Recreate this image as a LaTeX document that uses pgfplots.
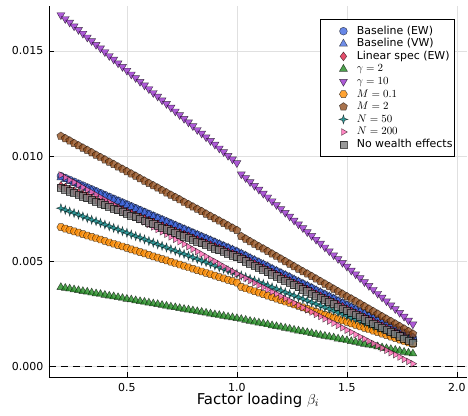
\documentclass[border=0pt]{standalone}
\usepackage{fontspec}
\setmainfont{DejaVu Sans}
\usepackage{pgfplots}
\usepackage{pgfplotstable}
\pgfplotsset{compat=1.18}

\definecolor{cblue}{HTML}{4169E1}
\definecolor{cred}{HTML}{DC143C}
\definecolor{cgreen}{HTML}{228B22}
\definecolor{cpurple}{HTML}{9932CC}
\definecolor{corange}{HTML}{FF8C00}
\definecolor{cbrown}{HTML}{8B4513}
\definecolor{cteal}{HTML}{008080}
\definecolor{cpink}{HTML}{FF69B4}
\definecolor{cgray}{HTML}{808080}

\pgfdeclareplotmark{hexagon*}{%
  \pgfpathmoveto{\pgfpointpolar{0}{\pgfplotmarksize}}%
  \pgfpathlineto{\pgfpointpolar{60}{\pgfplotmarksize}}%
  \pgfpathlineto{\pgfpointpolar{120}{\pgfplotmarksize}}%
  \pgfpathlineto{\pgfpointpolar{180}{\pgfplotmarksize}}%
  \pgfpathlineto{\pgfpointpolar{240}{\pgfplotmarksize}}%
  \pgfpathlineto{\pgfpointpolar{300}{\pgfplotmarksize}}%
  \pgfpathclose\pgfusepathqfillstroke}
\pgfdeclareplotmark{star4*}{%
  \pgfpathmoveto{\pgfpointpolar{90}{1.25\pgfplotmarksize}}%
  \pgfpathlineto{\pgfpointpolar{135}{0.42\pgfplotmarksize}}%
  \pgfpathlineto{\pgfpointpolar{180}{1.25\pgfplotmarksize}}%
  \pgfpathlineto{\pgfpointpolar{225}{0.42\pgfplotmarksize}}%
  \pgfpathlineto{\pgfpointpolar{270}{1.25\pgfplotmarksize}}%
  \pgfpathlineto{\pgfpointpolar{315}{0.42\pgfplotmarksize}}%
  \pgfpathlineto{\pgfpointpolar{0}{1.25\pgfplotmarksize}}%
  \pgfpathlineto{\pgfpointpolar{45}{0.42\pgfplotmarksize}}%
  \pgfpathclose\pgfusepathqfillstroke}

% columns: x, baseline EW, baseline VW, linear spec EW, gamma=2, gamma=10, M=0.1, M=2, N=50, N=200, no wealth effects
\pgfplotstableread{
x be bv ls g2 g10 m01 m2 n50 n200 nw
0.20 905e-5 898e-5 858e-5 376e-5 1671e-5 662e-5 1095e-5 752e-5 910e-5 850e-5
0.22 896e-5 889e-5 850e-5 372e-5 1653e-5 655e-5 1084e-5 744e-5 898e-5 842e-5
0.24 887e-5 880e-5 841e-5 369e-5 1636e-5 649e-5 1073e-5 736e-5 886e-5 833e-5
0.26 878e-5 872e-5 833e-5 365e-5 1618e-5 642e-5 1061e-5 729e-5 875e-5 825e-5
0.28 869e-5 863e-5 825e-5 361e-5 1601e-5 636e-5 1050e-5 721e-5 863e-5 817e-5
0.30 860e-5 854e-5 817e-5 357e-5 1583e-5 629e-5 1039e-5 713e-5 851e-5 809e-5
0.32 851e-5 845e-5 808e-5 354e-5 1565e-5 622e-5 1028e-5 705e-5 839e-5 800e-5
0.34 842e-5 836e-5 800e-5 350e-5 1548e-5 616e-5 1017e-5 697e-5 828e-5 792e-5
0.36 833e-5 828e-5 792e-5 346e-5 1530e-5 609e-5 1005e-5 690e-5 816e-5 784e-5
0.38 824e-5 819e-5 784e-5 343e-5 1513e-5 603e-5 994e-5 682e-5 804e-5 776e-5
0.40 815e-5 810e-5 775e-5 339e-5 1495e-5 596e-5 983e-5 674e-5 792e-5 767e-5
0.42 806e-5 801e-5 767e-5 335e-5 1477e-5 589e-5 972e-5 666e-5 781e-5 759e-5
0.44 797e-5 792e-5 759e-5 332e-5 1460e-5 583e-5 961e-5 658e-5 769e-5 751e-5
0.46 788e-5 784e-5 751e-5 328e-5 1442e-5 576e-5 949e-5 651e-5 757e-5 743e-5
0.48 779e-5 775e-5 742e-5 324e-5 1425e-5 570e-5 938e-5 643e-5 745e-5 734e-5
0.50 770e-5 766e-5 734e-5 320e-5 1407e-5 563e-5 927e-5 635e-5 734e-5 726e-5
0.52 761e-5 757e-5 726e-5 317e-5 1389e-5 556e-5 916e-5 627e-5 722e-5 718e-5
0.54 752e-5 748e-5 718e-5 313e-5 1372e-5 550e-5 905e-5 619e-5 710e-5 710e-5
0.56 743e-5 740e-5 709e-5 309e-5 1354e-5 543e-5 893e-5 612e-5 698e-5 701e-5
0.58 734e-5 731e-5 701e-5 306e-5 1337e-5 537e-5 882e-5 604e-5 687e-5 693e-5
0.60 725e-5 722e-5 693e-5 302e-5 1319e-5 530e-5 871e-5 596e-5 675e-5 685e-5
0.62 716e-5 713e-5 685e-5 298e-5 1301e-5 523e-5 860e-5 588e-5 663e-5 677e-5
0.64 707e-5 704e-5 676e-5 295e-5 1284e-5 517e-5 849e-5 580e-5 651e-5 668e-5
0.66 698e-5 696e-5 668e-5 291e-5 1266e-5 510e-5 837e-5 573e-5 640e-5 660e-5
0.68 689e-5 687e-5 660e-5 287e-5 1249e-5 504e-5 826e-5 565e-5 628e-5 652e-5
0.70 680e-5 678e-5 652e-5 283e-5 1231e-5 497e-5 815e-5 557e-5 616e-5 644e-5
0.72 671e-5 669e-5 643e-5 280e-5 1213e-5 490e-5 804e-5 549e-5 604e-5 635e-5
0.74 662e-5 660e-5 635e-5 276e-5 1196e-5 484e-5 793e-5 541e-5 593e-5 627e-5
0.76 653e-5 652e-5 627e-5 272e-5 1178e-5 477e-5 781e-5 534e-5 581e-5 619e-5
0.78 644e-5 643e-5 619e-5 269e-5 1161e-5 471e-5 770e-5 526e-5 569e-5 611e-5
0.80 635e-5 634e-5 610e-5 265e-5 1143e-5 464e-5 759e-5 518e-5 557e-5 602e-5
0.82 626e-5 625e-5 602e-5 261e-5 1125e-5 457e-5 748e-5 510e-5 546e-5 594e-5
0.84 617e-5 616e-5 594e-5 258e-5 1108e-5 451e-5 737e-5 502e-5 534e-5 586e-5
0.86 608e-5 608e-5 586e-5 254e-5 1090e-5 444e-5 725e-5 495e-5 522e-5 578e-5
0.88 599e-5 599e-5 577e-5 250e-5 1073e-5 438e-5 714e-5 487e-5 510e-5 569e-5
0.90 590e-5 590e-5 569e-5 246e-5 1055e-5 431e-5 703e-5 479e-5 499e-5 561e-5
0.92 581e-5 581e-5 561e-5 243e-5 1037e-5 424e-5 692e-5 471e-5 487e-5 553e-5
0.94 572e-5 572e-5 553e-5 239e-5 1020e-5 418e-5 681e-5 463e-5 475e-5 545e-5
0.96 563e-5 564e-5 544e-5 235e-5 1002e-5 411e-5 669e-5 456e-5 463e-5 536e-5
0.98 554e-5 555e-5 536e-5 232e-5 985e-5 405e-5 658e-5 448e-5 452e-5 528e-5
1.00 545e-5 546e-5 528e-5 228e-5 967e-5 398e-5 647e-5 440e-5 440e-5 520e-5
1.02 535e-5 536e-5 518e-5 224e-5 914e-5 378e-5 618e-5 432e-5 429e-5 510e-5
1.04 525e-5 526e-5 508e-5 220e-5 896e-5 371e-5 606e-5 424e-5 419e-5 500e-5
1.06 514e-5 515e-5 497e-5 215e-5 877e-5 364e-5 594e-5 416e-5 408e-5 489e-5
1.08 504e-5 505e-5 487e-5 211e-5 859e-5 357e-5 582e-5 408e-5 397e-5 479e-5
1.10 494e-5 495e-5 477e-5 207e-5 841e-5 350e-5 570e-5 400e-5 386e-5 469e-5
1.12 484e-5 485e-5 467e-5 203e-5 822e-5 343e-5 559e-5 392e-5 376e-5 459e-5
1.14 474e-5 475e-5 457e-5 199e-5 804e-5 336e-5 547e-5 384e-5 365e-5 449e-5
1.16 463e-5 464e-5 446e-5 194e-5 786e-5 329e-5 535e-5 376e-5 354e-5 438e-5
1.18 453e-5 454e-5 436e-5 190e-5 768e-5 322e-5 523e-5 368e-5 344e-5 428e-5
1.20 443e-5 444e-5 426e-5 186e-5 749e-5 315e-5 511e-5 360e-5 333e-5 418e-5
1.22 433e-5 434e-5 416e-5 182e-5 731e-5 308e-5 499e-5 352e-5 322e-5 408e-5
1.24 423e-5 424e-5 406e-5 178e-5 713e-5 301e-5 487e-5 344e-5 312e-5 398e-5
1.26 412e-5 413e-5 395e-5 173e-5 694e-5 294e-5 475e-5 336e-5 301e-5 387e-5
1.28 402e-5 403e-5 385e-5 169e-5 676e-5 287e-5 463e-5 328e-5 290e-5 377e-5
1.30 392e-5 393e-5 375e-5 165e-5 658e-5 280e-5 451e-5 320e-5 279e-5 367e-5
1.32 382e-5 383e-5 365e-5 161e-5 639e-5 273e-5 440e-5 312e-5 269e-5 357e-5
1.34 372e-5 373e-5 355e-5 157e-5 621e-5 266e-5 428e-5 304e-5 258e-5 347e-5
1.36 361e-5 362e-5 344e-5 152e-5 603e-5 259e-5 416e-5 296e-5 247e-5 336e-5
1.38 351e-5 352e-5 334e-5 148e-5 584e-5 252e-5 404e-5 288e-5 237e-5 326e-5
1.40 341e-5 342e-5 324e-5 144e-5 566e-5 245e-5 392e-5 280e-5 226e-5 316e-5
1.42 331e-5 332e-5 314e-5 140e-5 548e-5 239e-5 380e-5 272e-5 215e-5 306e-5
1.44 321e-5 322e-5 304e-5 136e-5 529e-5 232e-5 368e-5 264e-5 205e-5 296e-5
1.46 310e-5 311e-5 293e-5 131e-5 511e-5 225e-5 356e-5 256e-5 194e-5 285e-5
1.48 300e-5 301e-5 283e-5 127e-5 493e-5 218e-5 344e-5 248e-5 183e-5 275e-5
1.50 290e-5 291e-5 273e-5 123e-5 475e-5 211e-5 332e-5 240e-5 172e-5 265e-5
1.52 280e-5 281e-5 263e-5 119e-5 456e-5 204e-5 321e-5 232e-5 162e-5 255e-5
1.54 270e-5 271e-5 253e-5 115e-5 438e-5 197e-5 309e-5 224e-5 151e-5 245e-5
1.56 259e-5 260e-5 242e-5 110e-5 420e-5 190e-5 297e-5 216e-5 140e-5 234e-5
1.58 249e-5 250e-5 232e-5 106e-5 401e-5 183e-5 285e-5 208e-5 130e-5 224e-5
1.60 239e-5 240e-5 222e-5 102e-5 383e-5 176e-5 273e-5 200e-5 119e-5 214e-5
1.62 229e-5 230e-5 212e-5 98e-5 365e-5 169e-5 261e-5 192e-5 108e-5 204e-5
1.64 219e-5 220e-5 202e-5 94e-5 346e-5 162e-5 249e-5 184e-5 98e-5 194e-5
1.66 208e-5 209e-5 191e-5 89e-5 328e-5 155e-5 237e-5 176e-5 87e-5 183e-5
1.68 198e-5 199e-5 181e-5 85e-5 310e-5 148e-5 225e-5 168e-5 76e-5 173e-5
1.70 188e-5 189e-5 171e-5 81e-5 291e-5 141e-5 214e-5 160e-5 65e-5 163e-5
1.72 178e-5 179e-5 161e-5 77e-5 273e-5 134e-5 202e-5 152e-5 55e-5 153e-5
1.74 168e-5 169e-5 151e-5 73e-5 255e-5 127e-5 190e-5 144e-5 44e-5 143e-5
1.76 157e-5 158e-5 140e-5 68e-5 237e-5 120e-5 178e-5 136e-5 33e-5 132e-5
1.78 147e-5 148e-5 130e-5 64e-5 218e-5 113e-5 166e-5 128e-5 23e-5 122e-5
1.80 137e-5 138e-5 120e-5 60e-5 200e-5 106e-5 154e-5 120e-5 12e-5 112e-5
}\data

\begin{document}
\begin{tikzpicture}
\begin{axis}[
  scale only axis, width=418bp, height=371bp,
  xmin=0.146, xmax=2.046, ymin=-0.00051, ymax=0.01714,
  axis lines=left, axis line style={-, line width=0.9bp, black},
  xtick={0.5,1,1.5,2}, ytick={0,0.005,0.01,0.015},
  scaled x ticks=false, scaled y ticks=false,
  /pgf/number format/assume math mode=true,
  tick label style={font=\fontsize{11}{13}\selectfont},
  xticklabel style={/pgf/number format/fixed, /pgf/number format/fixed zerofill, /pgf/number format/precision=1, anchor=base, inner sep=0pt, yshift=-14.7bp},
  yticklabel style={/pgf/number format/fixed, /pgf/number format/fixed zerofill, /pgf/number format/precision=3, anchor=east, inner sep=0pt, xshift=-5.5bp},
  tick align=inside, major tick length=5bp, tick style={black, line width=0.7bp},
  grid=major, grid style={black!12, line width=0.5bp},
  xlabel={Factor loading $\beta_i$},
  xlabel style={font=\fontsize{15}{18}\selectfont, at={(axis description cs:0.5,0)}, anchor=base, yshift=-27.6bp},
  legend style={at={(0.971,0.965)}, anchor=north east, draw=black, line width=0.8bp, fill=white,
    inner xsep=1bp, inner ysep=5.5bp, font=\fontsize{11}{13}\selectfont, cells={anchor=west},
    nodes={inner sep=1bp, text height=8.2bp, text depth=2.4bp},
    /tikz/every even column/.append style={column sep=0pt}},
  legend image code/.code={\path (-22bp,0) (12bp,0); \draw[#1] plot coordinates {(0bp,0bp)};},
]
\addplot[black, line width=1bp, dash pattern=on 7.5bp off 4.5bp, forget plot] coordinates {(0.146,0) (2.046,0)};

\addplot[only marks, mark=*, mark size=3.9bp, mark options={fill=cblue, fill opacity=0.8, draw=black, draw opacity=0.65, line width=0.45bp}] table[x=x, y=be] {\data};
\addlegendentry{Baseline (EW)}
\addplot[only marks, mark=triangle*, mark size=4.6bp, mark options={fill=cblue, fill opacity=0.75, draw=black, draw opacity=0.65, line width=0.45bp}] table[x=x, y=bv] {\data};
\addlegendentry{Baseline (VW)}
\addplot[only marks, mark=diamond*, mark size=4.4bp, mark options={fill=cred, fill opacity=0.75, draw=black, draw opacity=0.65, line width=0.45bp}] table[x=x, y=ls] {\data};
\addlegendentry{Linear spec (EW)}
\addplot[only marks, mark=triangle*, mark size=4.6bp, mark options={fill=cgreen, fill opacity=0.8, draw=black, draw opacity=0.65, line width=0.45bp}] table[x=x, y=g2] {\data};
\addlegendentry{$\gamma = 2$}
\addplot[only marks, mark=triangle*, mark size=4.6bp, mark options={rotate=180, fill=cpurple, fill opacity=0.8, draw=black, draw opacity=0.65, line width=0.45bp}] table[x=x, y=g10] {\data};
\addlegendentry{$\gamma = 10$}
\addplot[only marks, mark=hexagon*, mark size=4bp, mark options={fill=corange, fill opacity=0.8, draw=black, draw opacity=0.65, line width=0.45bp}] table[x=x, y=m01] {\data};
\addlegendentry{$M = 0.1$}
\addplot[only marks, mark=pentagon*, mark size=4.2bp, mark options={fill=cbrown, fill opacity=0.75, draw=black, draw opacity=0.65, line width=0.45bp}] table[x=x, y=m2] {\data};
\addlegendentry{$M = 2$}
\addplot[only marks, mark=star4*, mark size=3.6bp, mark options={fill=cteal, fill opacity=0.8, draw=black, draw opacity=0.65, line width=0.45bp}] table[x=x, y=n50] {\data};
\addlegendentry{$N = 50$}
\addplot[only marks, mark=triangle*, mark size=3.9bp, mark options={rotate=-90, fill=cpink, fill opacity=0.8, draw=black, draw opacity=0.65, line width=0.45bp}] table[x=x, y=n200] {\data};
\addlegendentry{$N = 200$}
\addplot[only marks, mark=square*, mark size=3.6bp, mark options={fill=cgray, fill opacity=0.8, draw=black, draw opacity=0.65, line width=0.45bp}] table[x=x, y=nw] {\data};
\addlegendentry{No wealth effects}
\end{axis}
\pgfresetboundingbox
\path ([shift={(-49bp,-39bp)}]current axis.south west) rectangle ([shift={(1bp,6bp)}]current axis.north east);
\end{tikzpicture}
\end{document}
